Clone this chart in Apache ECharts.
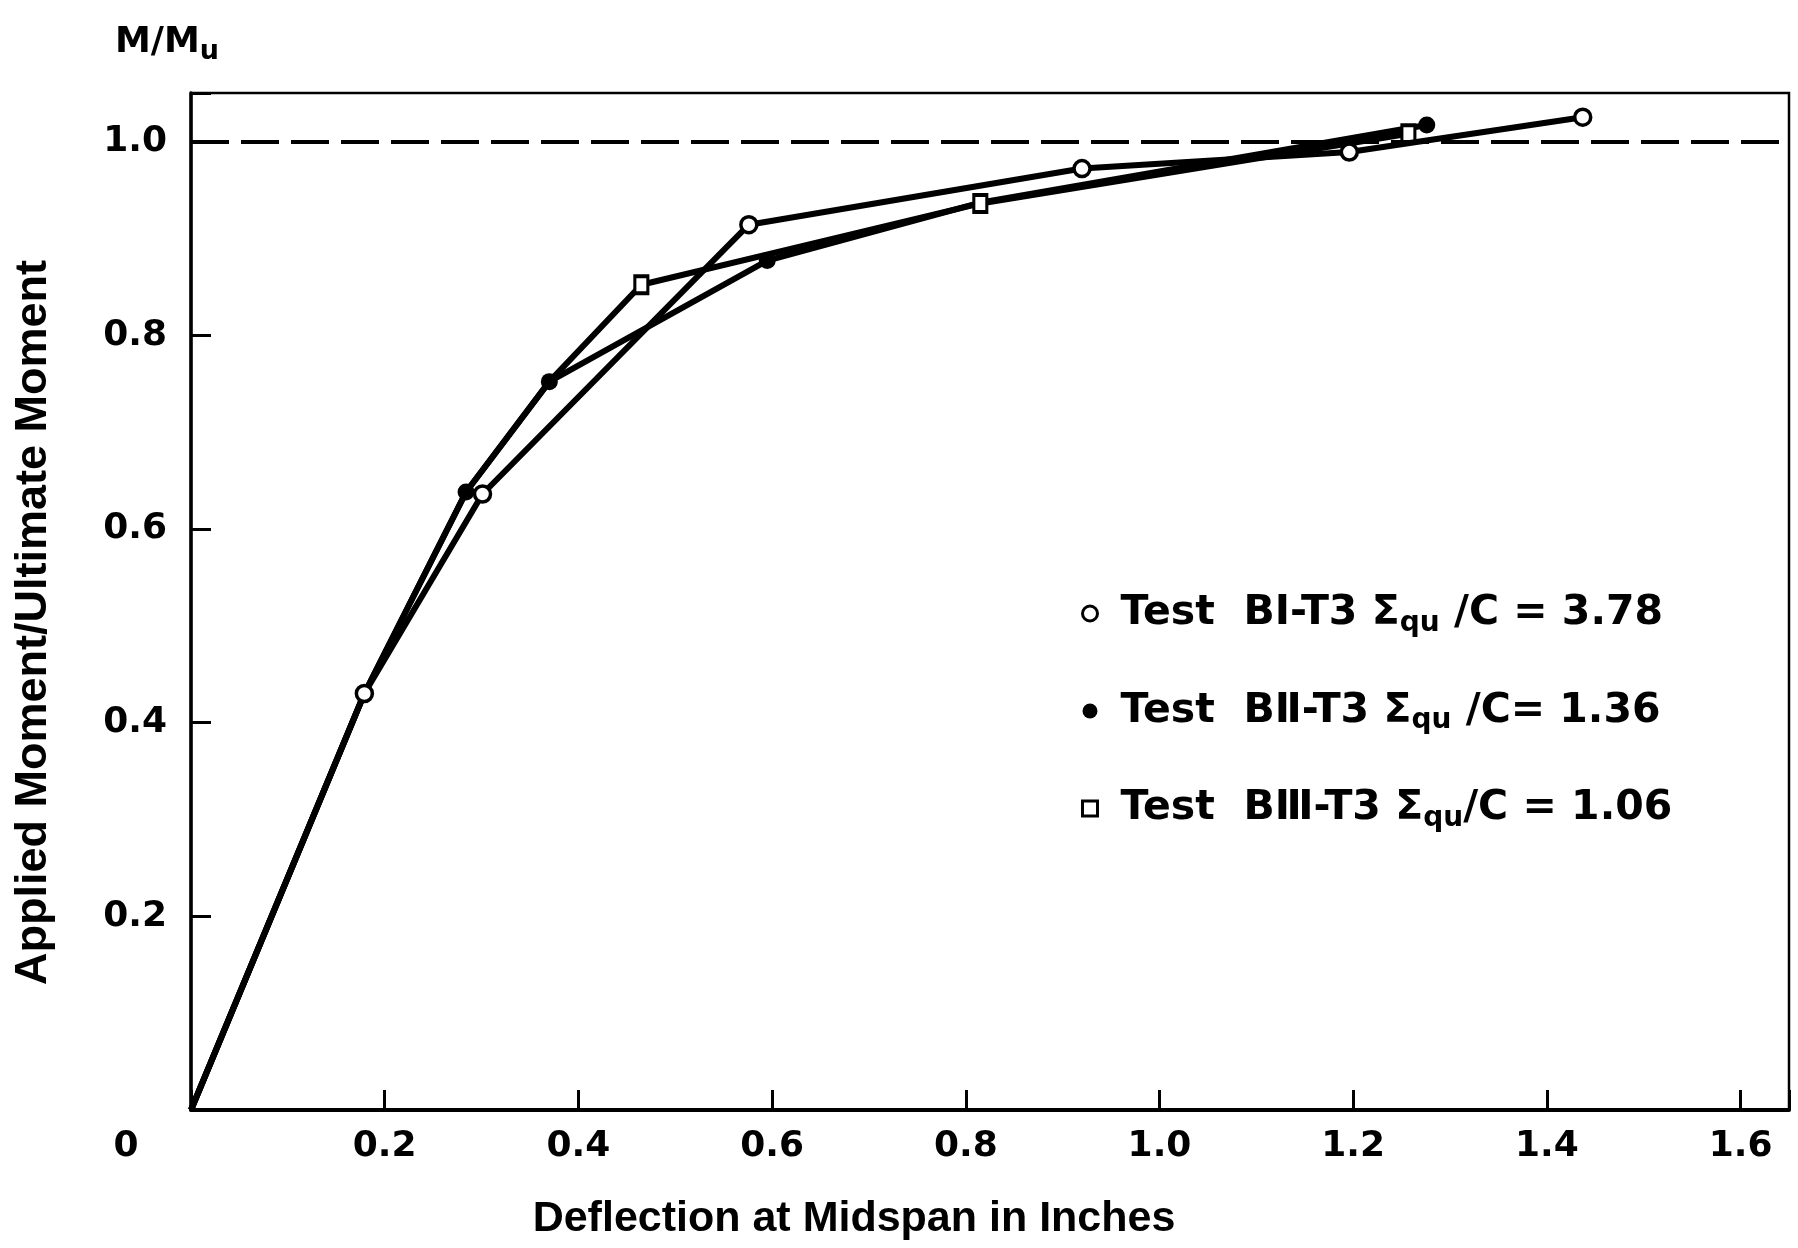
<!DOCTYPE html>
<html>
<head>
<meta charset="utf-8">
<script src="https://cdn.jsdelivr.net/npm/echarts@6/dist/echarts.min.js"></script>
<style>
html,body{margin:0;padding:0;background:#fff;}
#chart{width:1798px;height:1248px;}
</style>
</head>
<body>
<div id="chart"></div>
<script>
// ---- data ----
const seriesNames = [
  'Test  BⅠ-T3 Σqu /C = 3.78',
  'Test  BⅡ-T3 Σqu /C= 1.36',
  'Test  BⅢ-T3 Σqu/C = 1.06'
];
const deflBI   = [0, 0.179, 0.301, 0.576, 0.920, 1.196, 1.437];
const momBI    = [0, 0.430, 0.636, 0.914, 0.972, 0.989, 1.025];
const deflBII  = [0, 0.179, 0.284, 0.370, 0.595, 0.816, 1.276];
const momBII   = [0, 0.430, 0.638, 0.752, 0.877, 0.937, 1.017];
const deflBIII = [0, 0.179, 0.284, 0.370, 0.465, 0.815, 1.257];
const momBIII  = [0, 0.430, 0.638, 0.752, 0.852, 0.936, 1.008];
const ultimateLevel = 1.0;
const xTickStep = 0.2;
const yTickStep = 0.2;
const xLabel = 'Deflection at Midspan in Inches';
const yLabel = 'Applied Moment/Ultimate Moment';

// points whose markers are hidden (shared / covered in the original)
const hiddenBI = [0];
const hiddenBII = [0, 1, 5];
const hiddenBIII = [0, 1, 2, 3];

function pairs(xs, ys) { return xs.map((x, i) => [x, ys[i]]); }

const tickFont = { fontFamily: 'DejaVu Sans', fontWeight: 'bold', fontSize: 36, color: '#000' };

function fmtTick(v, step) {
  const k = v / step;
  if (Math.abs(k - Math.round(k)) > 1e-6) return '';
  return v.toFixed(1);
}

const chart = echarts.init(document.getElementById('chart'), null, { renderer: 'canvas' });
chart.setOption({
  animation: false,
  backgroundColor: '#fff',
  title: {
    text: '{m|M/M}{u|u}',
    left: 110,
    top: 16,
    textStyle: {
      rich: {
        m: { fontFamily: 'DejaVu Sans', fontWeight: 'bold', fontSize: 36, color: '#000', lineHeight: 44 },
        u: { fontFamily: 'DejaVu Sans', fontWeight: 'bold', fontSize: 27, color: '#000', lineHeight: 26, verticalAlign: 'bottom' }
      }
    }
  },
  grid: {
    left: 191, right: 9, top: 93, bottom: 138,
    show: true, borderColor: '#000', borderWidth: 2.5, backgroundColor: 'transparent'
  },
  legend: {
    orient: 'vertical',
    left: 1076,
    top: 588,
    itemGap: 53,
    itemWidth: 15,
    itemHeight: 15,
    selectedMode: false,
    data: [
      { name: seriesNames[0], icon: 'circle', itemStyle: { color: '#fff', borderColor: '#000', borderWidth: 3 } },
      { name: seriesNames[1], icon: 'circle', itemStyle: { color: '#000', borderColor: '#000', borderWidth: 0 } },
      { name: seriesNames[2], icon: 'rect', itemStyle: { color: '#fff', borderColor: '#000', borderWidth: 3 } }
    ],
    formatter: function (name) {
      const parts = name.split('qu');
      return '{t|' + parts[0] + '}{s|qu}{t|' + parts[1] + '}';
    },
    textStyle: {
      padding: [0, 0, 0, 18],
      rich: {
        t: { fontFamily: 'DejaVu Sans', fontWeight: 'bold', fontSize: 41, color: '#000', lineHeight: 48 },
        s: { fontFamily: 'DejaVu Sans', fontWeight: 'bold', fontSize: 28, color: '#000', lineHeight: 28, verticalAlign: 'bottom' }
      }
    }
  },
  xAxis: {
    type: 'value',
    min: 0, max: 1.65, interval: xTickStep,
    name: xLabel,
    nameLocation: 'middle',
    nameGap: 88,
    nameTextStyle: { fontFamily: 'Liberation Sans', fontWeight: 'bold', fontSize: 43, color: '#000', padding: [0, 272, 0, 0] },
    axisLine: { show: true, lineStyle: { color: '#000', width: 4 } },
    axisTick: { show: true, inside: true, length: 20, lineStyle: { color: '#000', width: 3 } },
    splitLine: { show: false },
    axisLabel: {
      margin: 19,
      formatter: function (v) {
        if (v === 0) return '{z|0}';
        return fmtTick(v, xTickStep);
      },
      rich: {
        z: Object.assign({}, tickFont, { padding: [0, 130, 0, 0] })
      },
      ...tickFont
    }
  },
  yAxis: {
    type: 'value',
    min: 0, max: 1.05, interval: yTickStep,
    name: yLabel,
    nameLocation: 'middle',
    nameRotate: 90,
    nameGap: 135,
    nameTextStyle: { fontFamily: 'Liberation Sans', fontWeight: 'bold', fontSize: 45, color: '#000', padding: [0, 42, 0, 0] },
    axisLine: { show: true, lineStyle: { color: '#000', width: 3.5 } },
    axisTick: { show: true, inside: true, length: 20, lineStyle: { color: '#000', width: 3 } },
    splitLine: { show: false },
    axisLabel: {
      margin: 24,
      formatter: function (v) { return v === 0 ? '' : fmtTick(v, yTickStep); },
      ...tickFont
    }
  },
  series: [
    {
      name: seriesNames[1],
      type: 'line',
      z: 2,
      data: pairs(deflBII, momBII),
      symbol: function (v, p) { return hiddenBII.indexOf(p.dataIndex) >= 0 ? 'none' : 'circle'; },
      symbolSize: 17,
      lineStyle: { color: '#000', width: 6 },
      itemStyle: { color: '#000', borderColor: '#000', borderWidth: 0 }
    },
    {
      name: seriesNames[2],
      type: 'line',
      z: 3,
      data: pairs(deflBIII, momBIII),
      symbol: function (v, p) { return hiddenBIII.indexOf(p.dataIndex) >= 0 ? 'none' : 'rect'; },
      symbolSize: [13, 17],
      lineStyle: { color: '#000', width: 6 },
      itemStyle: { color: '#fff', borderColor: '#000', borderWidth: 3.5 }
    },
    {
      name: seriesNames[0],
      type: 'line',
      z: 4,
      data: pairs(deflBI, momBI),
      symbol: function (v, p) { return hiddenBI.indexOf(p.dataIndex) >= 0 ? 'none' : 'circle'; },
      symbolSize: 16,
      lineStyle: { color: '#000', width: 6 },
      itemStyle: { color: '#fff', borderColor: '#000', borderWidth: 3.5 },
      markLine: {
        silent: true,
        symbol: 'none',
        label: { show: false },
        lineStyle: { color: '#000', width: 4, type: [38, 12] },
        data: [{ yAxis: ultimateLevel }]
      }
    }
  ]
});
</script>
</body>
</html>
